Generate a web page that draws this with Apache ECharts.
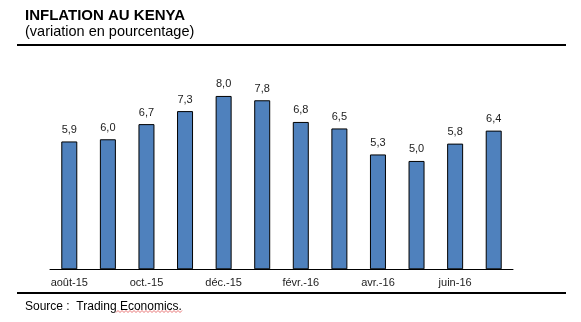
<!DOCTYPE html>
<html><head><meta charset="utf-8">
<script src="https://cdn.jsdelivr.net/npm/echarts@6/dist/echarts.min.js"></script>
<style>html,body{margin:0;padding:0;background:#fff}#c{width:581px;height:322px}</style>
</head><body><div id="c"></div>
<script>
var categories = ['août-15','sept.-15','oct.-15','nov.-15','déc.-15','janv.-16','févr.-16','mars-16','avr.-16','mai-16','juin-16','juil.-16'];
var values = [5.9, 6.0, 6.7, 7.3, 8.0, 7.8, 6.8, 6.5, 5.3, 5.0, 5.8, 6.4];
var titleText = 'INFLATION AU KENYA';
var subtitleText = '(variation en pourcentage)';
var sourceText = 'Source :  Trading Economics.';
var FONT = '"Liberation Sans", Arial, sans-serif';

// spell-check style wavy underline (decoration)
var wave = [];
for (var x = 116, k = 0; x <= 182; x += 2, k++) { wave.push([x, k % 2 ? 310.5 : 312.5]); }

var chart = echarts.init(document.getElementById('c'));
chart.setOption({
  animation: false,
  backgroundColor: '#ffffff',
  textStyle: { fontFamily: FONT },
  grid: { left: 50, right: 68, top: 52.6, bottom: 52.7, containLabel: false },
  xAxis: {
    type: 'category',
    data: categories,
    boundaryGap: true,
    axisLine: { show: true, lineStyle: { color: '#000', width: 1 } },
    axisTick: { show: false },
    axisLabel: { interval: 1, color: '#222', fontSize: 11, fontFamily: FONT, margin: 8 }
  },
  yAxis: {
    type: 'value', min: 0, max: 10, show: false,
    splitLine: { show: false }
  },
  series: [{
    type: 'bar',
    data: values,
    barWidth: 16,
    itemStyle: { color: '#4F81BD', borderColor: '#000', borderWidth: 1 },
    label: {
      show: true, position: 'top', distance: 6,
      color: '#222', fontSize: 11, fontFamily: FONT,
      formatter: function (p) { return p.value.toFixed(1).replace('.', ','); }
    }
  }],
  graphic: [
    { type: 'text', left: 25, top: 8, style: { text: titleText, font: 'bold 15px ' + FONT, fill: '#000' } },
    { type: 'text', left: 25, top: 24.5, style: { text: subtitleText, font: '14.5px ' + FONT, fill: '#000' } },
    { type: 'line', shape: { x1: 17, y1: 45, x2: 566, y2: 45 }, style: { stroke: '#000', lineWidth: 2 } },
    { type: 'line', shape: { x1: 17, y1: 293, x2: 566, y2: 293 }, style: { stroke: '#000', lineWidth: 2 } },
    { type: 'text', left: 25, top: 301, style: { text: sourceText, font: '12px ' + FONT, fill: '#000' } },
    { type: 'polyline', shape: { points: wave }, style: { stroke: '#e05050', lineWidth: 0.8, fill: null } }
  ]
});
</script></body></html>
